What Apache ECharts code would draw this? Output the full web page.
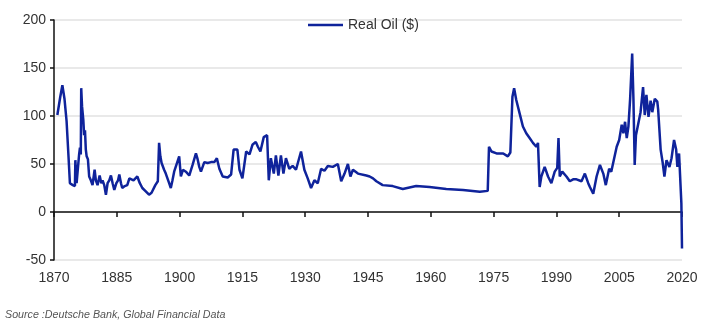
<!DOCTYPE html>
<html>
<head>
<meta charset="utf-8">
<script src="https://cdn.jsdelivr.net/npm/echarts@6/dist/echarts.min.js"></script>
<style>
html,body{margin:0;padding:0;background:#fff;}
#chart{width:706px;height:328px;}
</style>
</head>
<body>
<div id="chart"></div>
<script>
var seriesName = 'Real Oil ($)';
var sourceText = 'Source :Deutsche Bank, Global Financial Data';
var xTicks = [1870, 1885, 1900, 1915, 1930, 1945, 1960, 1975, 1990, 2005, 2020];
var yTicks = [-50, 0, 50, 100, 150, 200];

var years = [
1870.8,1871.5,1872.0,1872.5,1873.0,1873.5,1873.8,1874.5,1875.0,1875.1,1875.4,1875.7,1876.0,1876.2,1876.4,1876.5,1876.7,1877.0,1877.2,1877.4,1877.6,1877.8,1878.1,1878.4,1878.8,1879.2,1879.7,1880.0,1880.4,1880.9,1881.3,1881.6,1882.0,1882.4,1882.8,1883.2,1883.6,1884.0,1884.4,1884.9,1885.3,1885.6,1886.0,1886.3,1886.9,1887.5,1888.0,1888.3,1889.0,1889.9,1890.5,1891.1,1891.8,1892.7,1893.3,1894.2,1894.8,1895.1,1895.4,1895.7,1896.0,1896.3,1896.7,1897.5,1897.9,1898.3,1898.7,1899.1,1899.9,1900.3,1900.8,1901.5,1902.3,1903.1,1903.9,1904.3,1904.7,1905.1,1905.9,1906.7,1907.5,1908.3,1908.9,1909.5,1910.3,1911.5,1912.3,1912.9,1913.8,1914.3,1915.0,1915.9,1916.7,1917.4,1918.2,1918.7,1919.3,1920.1,1920.9,1921.3,1921.8,1922.5,1923.0,1923.6,1924.2,1924.8,1925.4,1926.2,1927.0,1927.8,1929.0,1929.8,1930.6,1931.4,1932.2,1933.0,1933.8,1934.6,1935.4,1936.6,1937.8,1938.6,1939.4,1940.2,1940.8,1941.4,1942.6,1944.6,1945.4,1946.2,1947.0,1948.5,1950.9,1953.3,1956.5,1959.7,1963.7,1967.7,1971.7,1973.6,1973.9,1974.5,1975.7,1977.3,1978.4,1979.0,1979.5,1979.9,1980.4,1981.2,1982.0,1982.8,1983.6,1984.4,1985.2,1985.6,1986.0,1986.4,1987.2,1988.0,1988.8,1989.6,1990.2,1990.5,1990.8,1991.4,1992.4,1993.2,1994.0,1994.8,1996.0,1996.8,1997.6,1998.0,1998.8,1999.6,2000.4,2001.2,2001.8,2002.6,2003.1,2003.7,2004.4,2005.0,2005.6,2006.0,2006.4,2006.8,2007.2,2007.6,2007.9,2008.1,2008.4,2008.7,2009.0,2009.6,2010.1,2010.7,2011.1,2011.5,2012.0,2012.5,2012.9,2013.5,2014.1,2014.3,2014.9,2015.4,2015.8,2016.3,2017.0,2017.5,2018.1,2018.6,2018.9,2019.3,2019.7,2019.85,2020.0
];
var realOil = [
101,120,132,118,95,55,30,28,27,54,30,28,60,67,60,129,110,96,80,85,65,58,55,37,33,28,44,33,28,38,30,33,28,18,30,33,38,30,23,30,33,39,30,25,27,28,35,33,33,37,30,25,22,18,20,28,32,72,58,51,52,44,40,30,25,33,42,44,58,37,44,42,38,49,61,55,47,42,52,51,52,52,56,45,37,36,39,65,65,44,35,63,60,70,73,68,63,78,80,33,56,40,59,38,59,40,56,45,48,44,63,44,35,25,33,30,45,43,48,47,50,32,40,50,37,44,40,38,37,35,32,28,27,24,27,26,24,23,21,22,68,63,61,61,58,62,120,129,117,103,89,82,77,72,68,72,26,37,47,37,30,42,46,77,37,42,37,32,34,34,32,40,30,26,19,37,49,40,28,45,42,54,68,75,91,82,94,77,89,117,115,165,118,49,80,93,104,130,101,122,99,116,104,118,115,107,65,51,37,54,47,56,75,65,47,61,59,9,-38
];

var data = years.map(function (y, i) { return [y, realOil[i]]; });

var chart = echarts.init(document.getElementById('chart'), null, {renderer: 'canvas'});
var font = 'Liberation Sans, Arial, sans-serif';
chart.setOption({
  animation: false,
  backgroundColor: '#ffffff',
  grid: {left: 54, right: 24, top: 20, bottom: 68, containLabel: false},
  legend: {
    data: [{name: seriesName, icon: 'rect'}],
    left: 308, top: 18,
    itemWidth: 35, itemHeight: 2.5, itemGap: 10,
    itemStyle: {color: '#0f239b'},
    textStyle: {fontFamily: font, fontSize: 14, color: '#333'},
    padding: 0
  },
  xAxis: [{
    type: 'value', min: xTicks[0], max: xTicks[xTicks.length - 1], interval: 15,
    position: 'bottom',
    axisLine: {show: false, onZero: false},
    axisTick: {show: false},
    splitLine: {show: false},
    axisLabel: {fontFamily: font, fontSize: 14, color: '#333', margin: 11,
      formatter: function (v) { return String(v); }}
  }, {
    type: 'value', min: xTicks[0], max: xTicks[xTicks.length - 1], interval: 15,
    position: 'top',
    axisLine: {show: true, onZero: true, lineStyle: {color: '#111', width: 1.5}},
    axisTick: {show: true, inside: true, length: 5, lineStyle: {color: '#111', width: 1.5}},
    splitLine: {show: false},
    axisLabel: {show: false}
  }],
  yAxis: {
    type: 'value', min: yTicks[0], max: yTicks[yTicks.length - 1], interval: 50,
    axisLine: {show: true, onZero: false, lineStyle: {color: '#111', width: 1.5}},
    axisTick: {show: true, length: 4, lineStyle: {color: '#111', width: 1.5}},
    splitLine: {show: true, lineStyle: {color: '#e2e2e2', width: 1.5}},
    axisLabel: {fontFamily: font, fontSize: 14, color: '#333', margin: 8}
  },
  series: [{
    name: seriesName,
    type: 'line',
    xAxisIndex: 0,
    data: data,
    symbol: 'none',
    lineStyle: {color: '#0f239b', width: 2.5},
    itemStyle: {color: '#0f239b'}
  }],
  graphic: [{
    type: 'text', left: 5, top: 310,
    style: {text: sourceText, fontFamily: font, fontSize: 10.7, fontStyle: 'italic', fill: '#555'}
  }]
});
</script>
</body>
</html>
